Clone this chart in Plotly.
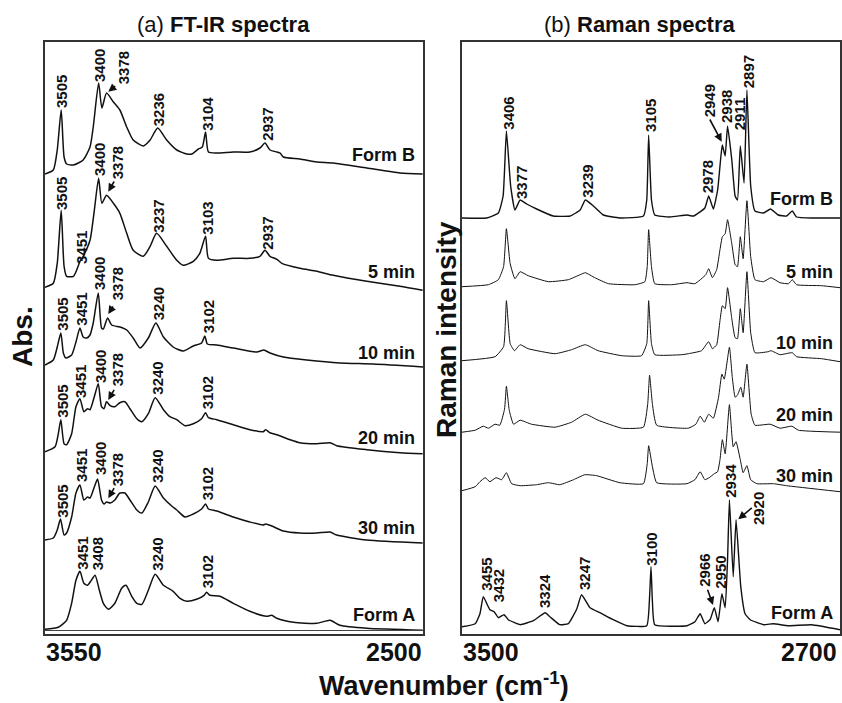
import plotly.graph_objects as go

# ---------------- FT-IR spectra (wavenumber, absorbance in arbitrary units) ----------------
IR_B_WN = [3550, 3527, 3516, 3505, 3497, 3490, 3471, 3444, 3425, 3416, 3401, 3392, 3379, 3360, 3342, 3323, 3305,
           3277, 3258, 3237, 3212, 3184, 3156, 3142, 3124, 3113, 3104, 3096, 3073, 3027, 2981, 2953, 2939, 2925,
           2906, 2897, 2888, 2842, 2795, 2749, 2656, 2564, 2501]
IR_B_ABS = [0, 4, 24, 64, 17, 10, 9, 14, 27, 47, 91, 66, 81, 72, 64, 47, 34,
            28, 34, 46, 34, 24, 20, 20, 25, 27, 42, 22, 21, 22, 22, 26, 31, 24,
            22, 21, 17, 15, 12, 11, 6, 1, 0]

IR_5_WN = [3550, 3527, 3516, 3505, 3497, 3490, 3471, 3458, 3453, 3444, 3425, 3413, 3401, 3392, 3379, 3360, 3342,
           3323, 3305, 3277, 3258, 3240, 3212, 3184, 3166, 3138, 3120, 3104, 3096, 3073, 3027, 2981, 2953, 2939,
           2925, 2906, 2892, 2842, 2795, 2749, 2656, 2564, 2501]
IR_5_ABS = [0, 4, 24, 77, 21, 11, 11, 21, 26, 31, 47, 77, 109, 84, 92, 84, 74,
            54, 37, 31, 41, 54, 41, 27, 22, 26, 34, 51, 29, 27, 29, 29, 31, 37,
            31, 28, 24, 19, 16, 12, 6, 1, -3]

IR_10_WN = [3550, 3527, 3516, 3506, 3499, 3492, 3476, 3464, 3453, 3444, 3434, 3425, 3416, 3402, 3393, 3388, 3376,
            3365, 3342, 3323, 3305, 3286, 3263, 3242, 3221, 3194, 3166, 3138, 3115, 3106, 3099, 3073, 3027, 2962,
            2942, 2925, 2888, 2823, 2731, 2638, 2499]
IR_10_ABS = [0, 5, 18, 32, 12, 7, 10, 23, 37, 28, 27, 30, 42, 72, 37, 36, 47,
             40, 38, 35, 27, 17, 27, 42, 28, 18, 14, 19, 22, 29, 21, 20, 17, 13,
             15, 12, 8, 5, 2, 1, -2]

IR_20_WN = [3550, 3522, 3513, 3506, 3497, 3490, 3476, 3464, 3453, 3442, 3432, 3425, 3413, 3402, 3393, 3386, 3379,
            3369, 3356, 3342, 3328, 3314, 3295, 3281, 3263, 3244, 3221, 3203, 3184, 3161, 3138, 3115, 3104, 3096,
            3073, 3027, 2981, 2944, 2937, 2925, 2906, 2869, 2842, 2795, 2758, 2740, 2656, 2564, 2501]
IR_20_ABS = [0, 5, 18, 32, 8, 7, 18, 45, 53, 40, 43, 42, 55, 68, 45, 43, 50,
             46, 45, 49, 50, 43, 33, 30, 38, 54, 42, 35, 32, 26, 28, 33, 39, 34,
             32, 27, 22, 20, 22, 19, 17, 12, 9, 8, 9, 6, 2, -1, -2]

IR_30_WN = [3550, 3527, 3516, 3507, 3497, 3490, 3476, 3464, 3453, 3442, 3432, 3425, 3413, 3404, 3393, 3386, 3379,
            3369, 3356, 3342, 3328, 3314, 3295, 3281, 3263, 3244, 3221, 3198, 3184, 3161, 3138, 3115, 3104, 3096,
            3073, 3027, 2981, 2944, 2937, 2920, 2888, 2842, 2795, 2758, 2740, 2656, 2501]
IR_30_ABS = [0, 2, 10, 21, 5, 7, 23, 47, 55, 40, 43, 42, 53, 61, 40, 36, 38,
             37, 40, 47, 47, 40, 30, 27, 38, 54, 42, 34, 30, 23, 26, 31, 36, 31,
             29, 23, 18, 15, 16, 14, 9, 7, 7, 8, 5, 0, -3]

IR_A_WN = [3550, 3513, 3490, 3476, 3464, 3453, 3442, 3432, 3423, 3411, 3399, 3388, 3374, 3356, 3337, 3325, 3309,
           3295, 3281, 3263, 3244, 3221, 3194, 3175, 3156, 3129, 3108, 3101, 3092, 3064, 3027, 2981, 2934, 2920,
           2906, 2860, 2795, 2758, 2731, 2656, 2501]
IR_A_ABS = [0, 2, 9, 26, 49, 58, 46, 44, 48, 54, 39, 26, 20, 26, 41, 44, 33,
            26, 25, 39, 55, 44, 38, 31, 28, 30, 34, 37, 34, 33, 26, 18, 13, 14,
            11, 7, 6, 9, 4, 1, -1]

IR_NAMES = ["Form B", "5 min", "10 min", "20 min", "30 min", "Form A"]
IR_OFFSETS = [460, 346.7, 269, 182.3, 94, 4.7]

# ---------------- Raman spectra ----------------
RA_B_WN = [3500, 3448, 3423, 3413, 3406, 3397, 3388, 3377, 3363, 3342, 3307, 3271, 3250, 3239, 3222, 3201, 3166,
           3116, 3109, 3105, 3099, 3092, 3060, 3024, 3010, 2986, 2978, 2968, 2959, 2952, 2949, 2943, 2938, 2929,
           2922, 2917, 2911, 2903, 2897, 2889, 2880, 2862, 2847, 2831, 2813, 2801, 2792, 2756, 2700]
RA_B_INT = [0, 0, 5, 22, 87, 32, 8, 18, 14, 9, 2, 2, 8, 18, 12, 3, 0,
            2, 18, 83, 18, 3, 1, 3, 2, 10, 22, 9, 28, 62, 73, 62, 92, 58,
            22, 18, 72, 35, 128, 32, 7, 5, 9, 3, 2, 7, 1, 0, 0]

RA_5_WN = [3500, 3444, 3423, 3412, 3406, 3398, 3388, 3377, 3360, 3317, 3275, 3250, 3239, 3219, 3190, 3134, 3113,
           3108, 3105, 3099, 3092, 3056, 3024, 3007, 2984, 2978, 2970, 2961, 2954, 2949, 2943, 2938, 2929, 2922,
           2917, 2911, 2905, 2897, 2889, 2880, 2862, 2846, 2827, 2809, 2801, 2792, 2739, 2700]
RA_5_INT = [0, 2, 7, 20, 58, 23, 8, 15, 11, 5, 7, 12, 14, 9, 3, 2, 5,
            20, 57, 20, 3, 2, 4, 3, 12, 18, 9, 17, 37, 50, 53, 67, 43, 22,
            20, 50, 28, 86, 30, 7, 5, 9, 4, 3, 7, 2, 1, -1]

RA_10_WN = [3500, 3430, 3412, 3406, 3398, 3389, 3377, 3360, 3303, 3268, 3239, 3212, 3162, 3120, 3109, 3105, 3099,
            3092, 3035, 3021, 2993, 2978, 2970, 2961, 2954, 2949, 2943, 2938, 2929, 2922, 2917, 2911, 2905, 2897,
            2889, 2880, 2852, 2846, 2827, 2801, 2792, 2739, 2700]
RA_10_INT = [0, 4, 14, 60, 17, 10, 16, 12, 7, 11, 16, 10, 5, 5, 17, 60, 17,
             6, 6, 7, 10, 19, 12, 16, 40, 55, 52, 73, 42, 23, 22, 52, 28, 89,
             28, 8, 9, 10, 6, 8, 4, 2, -1]

RA_20_WN = [3500, 3472, 3455, 3444, 3430, 3420, 3410, 3406, 3400, 3391, 3377, 3353, 3303, 3268, 3239, 3212, 3162,
            3116, 3107, 3103, 3097, 3088, 3021, 3005, 2996, 2987, 2978, 2968, 2957, 2950, 2945, 2934, 2928, 2922,
            2917, 2910, 2905, 2897, 2888, 2880, 2848, 2827, 2802, 2788, 2700]
RA_20_INT = [0, 2, 6, 4, 8, 7, 23, 46, 22, 8, 12, 8, 5, 10, 18, 12, 4,
             5, 28, 57, 28, 7, 4, 8, 16, 10, 18, 14, 35, 58, 53, 85, 55, 35,
             37, 45, 35, 68, 18, 7, 8, 4, 6, 2, 0]

RA_30_WN = [3500, 3472, 3462, 3451, 3441, 3428, 3416, 3406, 3395, 3377, 3342, 3317, 3293, 3264, 3240, 3215, 3166,
            3116, 3108, 3105, 3097, 3088, 3024, 3007, 2996, 2986, 2977, 2966, 2959, 2954, 2949, 2943, 2934, 2926,
            2920, 2911, 2905, 2897, 2889, 2876, 2841, 2813, 2700]
RA_30_INT = [0, 4, 9, 13, 9, 13, 11, 18, 7, 5, 6, 8, 6, 11, 16, 15, 8,
             7, 27, 45, 24, 8, 7, 11, 19, 11, 13, 17, 19, 31, 51, 37, 86, 44,
             49, 31, 18, 25, 11, 7, 7, 5, -1]

RA_A_WN = [3500, 3472, 3462, 3455, 3441, 3432, 3423, 3411, 3402, 3377, 3349, 3324, 3314, 3293, 3275, 3257, 3247,
           3229, 3208, 3180, 3151, 3109, 3103, 3100, 3097, 3092, 3024, 3007, 2996, 2986, 2975, 2966, 2958, 2950,
           2943, 2938, 2934, 2926, 2920, 2910, 2901, 2890, 2862, 2841, 2809, 2760, 2700]
RA_A_INT = [0, 3, 13, 30, 17, 15, 9, 12, 7, 2, 6, 14, 10, 2, 3, 18, 32,
            19, 14, 7, 1, 1, 30, 60, 25, 2, 1, 5, 13, 3, 7, 19, 5, 33,
            19, 67, 127, 50, 107, 40, 13, 7, 2, 3, 1, 2, -3]

RA_NAMES = ["Form B", "5 min", "10 min", "20 min", "30 min", "Form A"]
RA_OFFSETS = [416, 347.3, 273.3, 201.8, 143.3, 7.3]

# ---------------- peak labels: (text, wavenumber, height) ----------------
IR_PEAK_LABELS = [
    ("3505", 3505.6, 543), ("3400", 3400, 568), ("3378", 3332.5, 566), ("3236", 3235.3, 524),
    ("3104", 3100.8, 520), ("2937", 2934.2, 510),
    ("3505", 3505.6, 441), ("3451", 3450, 386), ("3400", 3400, 474), ("3378", 3349.2, 471),
    ("3237", 3237, 418), ("3103", 3100.8, 416), ("2937", 2934.2, 401),
    ("3505", 3503.6, 320), ("3451", 3450.8, 325), ("3400", 3400, 360), ("3378", 3349.2, 350),
    ("3240", 3235.3, 330), ("3102", 3096.4, 317),
    ("3505", 3503.6, 233), ("3451", 3452.8, 253), ("3400", 3397.2, 267), ("3378", 3349.2, 264),
    ("3240", 3239.7, 256), ("3102", 3099.2, 241),
    ("3505", 3503.6, 133), ("3451", 3450, 168), ("3400", 3397.2, 175), ("3378", 3349.2, 164),
    ("3240", 3239.7, 168), ("3102", 3099.2, 150),
    ("3451", 3448, 81), ("3408", 3404.7, 80), ("3240", 3239.7, 80), ("3102", 3099.2, 62),
]
# arrows: (head wavenumber, head height, tail wavenumber, tail height)
IR_ARROWS = [(3374.2, 542.3, 3350.8, 549), (3374.2, 442.3, 3355.6, 454), (3374.2, 320, 3358.3, 329),
             (3374.2, 234, 3355.6, 245.7), (3374.2, 135.7, 3355.6, 147.3)]

RA_PEAK_LABELS = [
    ("3406", 3403.3, 521), ("3377", 3375.1, 451), ("3239", 3236.1, 453), ("3105", 3102.1, 518),
    ("2978", 2980.8, 457), ("2949", 2976.6, 533), ("2938", 2941.3, 528), ("2911", 2913.1, 520),
    ("2897", 2894.1, 562),
    ("3455", 3449.8, 60), ("3432", 3423.2, 48), ("3324", 3326.5, 43), ("3247", 3241.8, 60),
    ("3100", 3100.6, 85), ("2966", 2988.4, 64), ("2950", 2954.5, 62), ("2934", 2933.3, 153),
    ("2920", 2873.4, 125),
]
RA_ARROWS = [(2950.4, 492.3, 2977.2, 516), (2968.7, 29, 2981.4, 45.7), (2915.3, 114.7, 2883.5, 127.3)]

IR_SERIES = [(IR_B_WN, IR_B_ABS), (IR_5_WN, IR_5_ABS), (IR_10_WN, IR_10_ABS),
             (IR_20_WN, IR_20_ABS), (IR_30_WN, IR_30_ABS), (IR_A_WN, IR_A_ABS)]
RA_SERIES = [(RA_B_WN, RA_B_INT), (RA_5_WN, RA_5_INT), (RA_10_WN, RA_10_INT),
             (RA_20_WN, RA_20_INT), (RA_30_WN, RA_30_INT), (RA_A_WN, RA_A_INT)]

FONT = "Liberation Sans, Arial, Helvetica, sans-serif"
INK = "#111111"
W, H = 842, 703

fig = go.Figure()

for (wn, ab), off, name in zip(IR_SERIES, IR_OFFSETS, IR_NAMES):
    fig.add_trace(go.Scatter(x=wn, y=[v + off for v in ab], mode="lines", name="IR " + name,
                             line=dict(color=INK, width=1.5, shape="spline", smoothing=0.6),
                             xaxis="x", yaxis="y", showlegend=False))

for i, ((wn, it), off, name) in enumerate(zip(RA_SERIES, RA_OFFSETS, RA_NAMES)):
    lw = 1.4 if i in (0, 5) else 1.0
    fig.add_trace(go.Scatter(x=wn, y=[v + off for v in it], mode="lines", name="Raman " + name,
                             line=dict(color=INK, width=lw, shape="spline", smoothing=0.4),
                             xaxis="x2", yaxis="y2", showlegend=False))

ydom = [1 - 634 / H, 1 - 42 / H]
axis_common = dict(showline=True, mirror=True, linecolor="#333333", linewidth=2,
                   showgrid=False, zeroline=False, showticklabels=False, ticks="")
fig.update_layout(
    width=W, height=H, margin=dict(l=0, r=0, t=0, b=0),
    paper_bgcolor="white", plot_bgcolor="white",
    font=dict(family=FONT, color=INK),
    xaxis=dict(domain=[45 / W, 423 / W], range=[3550, 2500], **axis_common),
    yaxis=dict(domain=ydom, range=[0, 592], **axis_common),
    xaxis2=dict(domain=[462 / W, 840 / W], range=[3500, 2700], anchor="y2", **axis_common),
    yaxis2=dict(domain=ydom, range=[0, 592], anchor="x2", **axis_common),
)

# thin baseline line near the bottom of panel (a)
fig.add_shape(type="line", xref="x", yref="y", x0=3550, x1=2500, y0=3.5, y1=3.5,
              line=dict(color="#444444", width=1))

ann = []
for txt, xw, yv in IR_PEAK_LABELS:
    ann.append(dict(text="<b>%s</b>" % txt, x=xw, y=yv, xref="x", yref="y", showarrow=False,
                    textangle=-90, font=dict(size=15, family=FONT, color=INK)))
for txt, xw, yv in RA_PEAK_LABELS:
    ann.append(dict(text="<b>%s</b>" % txt, x=xw, y=yv, xref="x2", yref="y2", showarrow=False,
                    textangle=-90, font=dict(size=15, family=FONT, color=INK)))
for hx, hy, tx, ty in IR_ARROWS:
    ann.append(dict(text="", x=hx, y=hy, ax=tx, ay=ty, xref="x", yref="y", axref="x", ayref="y",
                    showarrow=True, arrowhead=2, arrowsize=1, arrowwidth=1.6, arrowcolor=INK, standoff=0))
for hx, hy, tx, ty in RA_ARROWS:
    ann.append(dict(text="", x=hx, y=hy, ax=tx, ay=ty, xref="x2", yref="y2", axref="x2", ayref="y2",
                    showarrow=True, arrowhead=2, arrowsize=1, arrowwidth=1.6, arrowcolor=INK, standoff=0))

# spectrum names
IR_NAME_Y = [479, 362, 281, 196, 106, 19]
RA_NAME_Y = [435, 362, 291, 219, 158, 21]
for name, yv in zip(IR_NAMES, IR_NAME_Y):
    ann.append(dict(text="<b>%s</b>" % name, x=416.5 / W, y=yv, xref="paper", yref="y", xanchor="right",
                    yanchor="middle", showarrow=False, font=dict(size=18, family=FONT, color=INK)))
for name, yv in zip(RA_NAMES, RA_NAME_Y):
    ann.append(dict(text="<b>%s</b>" % name, x=835 / W, y=yv, xref="paper", yref="y2", xanchor="right",
                    yanchor="middle", showarrow=False, font=dict(size=18, family=FONT, color=INK)))

# axis end labels
for txt, xp, anchor in [("3550", 44 / W, "left"), ("2500", 424 / W, "right"),
                        ("3500", 461 / W, "left"), ("2700", 839 / W, "right")]:
    ann.append(dict(text="<b>%s</b>" % txt, x=xp, y=1 - 652 / H, xref="paper", yref="paper",
                    xanchor=anchor, yanchor="middle", showarrow=False,
                    font=dict(size=25, family=FONT, color=INK)))

# titles
ann.append(dict(text="(a) <b>FT-IR spectra</b>", x=223.5 / W, y=1 - 25 / H, xref="paper", yref="paper",
                showarrow=False, xanchor="center", yanchor="middle", font=dict(size=22, family=FONT, color=INK)))
ann.append(dict(text="(b) <b>Raman spectra</b>", x=640 / W, y=1 - 25 / H, xref="paper", yref="paper",
                showarrow=False, xanchor="center", yanchor="middle", font=dict(size=22, family=FONT, color=INK)))
ann.append(dict(text="<b>Abs.</b>", x=23 / W, y=1 - 337 / H, xref="paper", yref="paper", showarrow=False,
                textangle=-90, xanchor="center", yanchor="middle", font=dict(size=28, family=FONT, color=INK)))
ann.append(dict(text="<b>Raman intensity</b>", x=446 / W, y=1 - 330 / H, xref="paper", yref="paper",
                showarrow=False, textangle=-90, xanchor="center", yanchor="middle",
                font=dict(size=28, family=FONT, color=INK)))
ann.append(dict(text="<b>Wavenumber (cm<sup>-1</sup>)</b>", x=444 / W, y=0.0, xref="paper",
                yref="paper", showarrow=False, xanchor="center", yanchor="bottom",
                font=dict(size=27, family=FONT, color=INK)))

fig.update_layout(annotations=ann)
fig.write_html("out.html")
